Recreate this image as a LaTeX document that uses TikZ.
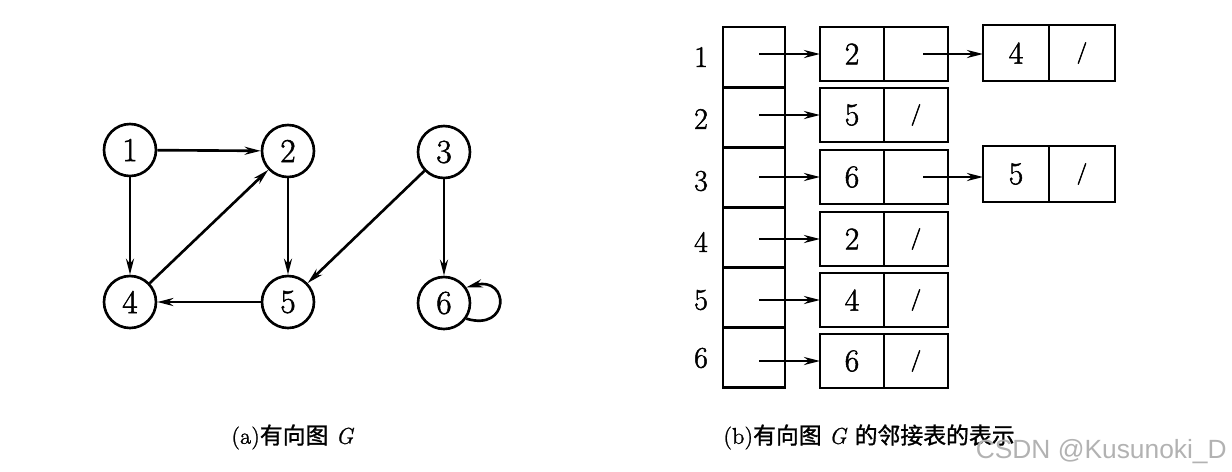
\documentclass[tikz,border=0pt]{standalone}
\usepackage{fontspec}
\newfontfamily\cjk[FakeBold=1.2]{Noto Sans CJK SC}
\newfontfamily\digitfont[FakeBold=1.6]{Latin Modern Roman}
\newfontfamily\slashfont[FakeBold=2.5]{Latin Modern Roman}
\newfontfamily\capfont[FakeBold=1]{Latin Modern Roman}
\newfontfamily\wmfont{Liberation Sans}
\usetikzlibrary{arrows.meta}
\begin{document}
\begin{tikzpicture}[x=0.02cm,y=-0.02cm,line width=1.5pt,
  vert/.style={circle,draw,minimum size=1.04cm,inner sep=0pt,font=\digitfont\fontsize{19}{22}\selectfont},
  arr/.style={-{Stealth[length=3.2mm,width=1.6mm]}},
  headbox/.style={draw,minimum width=1.24cm,minimum height=1.2cm,inner sep=0pt,outer sep=0pt},
  cell/.style={draw,minimum width=1.28cm,minimum height=1.08cm,inner sep=0pt,outer sep=0pt,font=\digitfont\fontsize{18}{21}\selectfont},
  cellb/.style={cell,minimum width=1.32cm,minimum height=1.12cm},
  nullmark/.style={font=\slashfont\fontsize{12}{14}\selectfont},
  rowlabel/.style={font=\digitfont\fontsize{17}{20}\selectfont},
  caption/.style={font=\capfont\fontsize{13}{16}\selectfont,anchor=west,inner sep=0pt}]
\path[use as bounding box] (0,0) rectangle (1232,471);

% ---- (a) directed graph ----
\node[vert] (v1) at (130,150) {1};
\node[vert] (v2) at (288,151) {2};
\node[vert] (v3) at (444,152) {3};
\node[vert] (v4) at (130,302) {4};
\node[vert] (v5) at (288,302) {5};
\node[vert] (v6) at (444,303) {6};
\draw[arr] (v1) -- (v2);
\draw[arr] (v1) -- (v4);
\draw[arr] (v4) -- (v2);
\draw[arr] (v2) -- (v5);
\draw[arr] (v3) -- (v5);
\draw[arr] (v3) -- (v6);
\draw[arr] (v5) -- (v4);
\draw[arr] (v6.-35) .. controls (510,332) and (510,276) .. (v6.35);

% ---- (b) adjacency list ----
\foreach \i/\y in {1/57.1,2/117.2,3/177.4,4/237.5,5/297.6,6/357.8}{
  \node[headbox] (h\i) at (754,\y) {};
}
\node[rowlabel] (r1) at (701,57) {1};
\node[rowlabel] (r2) at (701,119) {2};
\node[rowlabel] (r3) at (701,181) {3};
\node[rowlabel] (r4) at (701,242) {4};
\node[rowlabel] (r5) at (701,300) {5};
\node[rowlabel] (r6) at (701,358) {6};

% first list nodes
\node[cell] (d1) at (852,54) {2};   \node[cell] (n1) at (916,54) {};
\node[cell] (d2) at (852,115) {5};  \node[cell,nullmark] (n2) at (916,115) {/};
\node[cell] (d3) at (852,177) {6};  \node[cell] (n3) at (916,177) {};
\node[cell] (d4) at (852,239) {2};  \node[cell,nullmark] (n4) at (916,239) {/};
\node[cell] (d5) at (852,300) {4};  \node[cell,nullmark] (n5) at (916,300) {/};
\node[cell] (d6) at (852,361) {6};  \node[cell,nullmark] (n6) at (916,361) {/};
% second list nodes
\node[cellb] (e1) at (1016,53) {4};  \node[cellb,nullmark] (f1) at (1082,53) {/};
\node[cellb] (e3) at (1016,174) {5}; \node[cellb,nullmark] (f3) at (1082,174) {/};

% pointers
\foreach \i/\y in {1/54,2/115,3/177,4/239,5/300,6/361}{
  \coordinate (p\i) at (759,\y);
  \draw[arr] (p\i) -- (d\i.west);
}
\coordinate (q1) at (923,54);
\coordinate (q3) at (923,177);
\draw[arr] (q1) -- (e1.west |- q1);
\draw[arr] (q3) -- (e3.west |- q3);

% captions
\node[caption] (capa) at (230,437) {(a){\cjk 有向图} \textit{G}};
\node[caption] (capb) at (722,437) {(b){\cjk 有向图} \textit{G} {\cjk 的邻接表的表示}};
\node[anchor=east,inner sep=0pt,text=gray!60,font=\wmfont\fontsize{15}{18}\selectfont] (wm) at (1228,452) {CSDN @Kusunoki\_D};
\end{tikzpicture}
\end{document}
